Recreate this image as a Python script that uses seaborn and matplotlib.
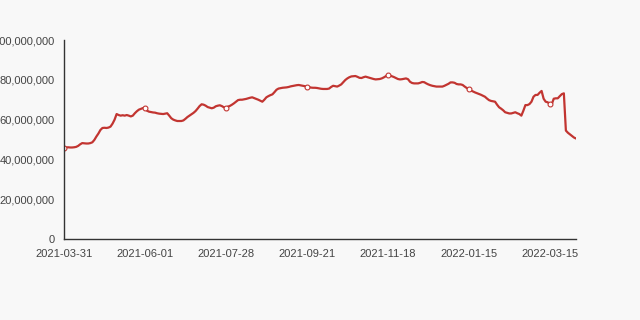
import matplotlib
matplotlib.use("Agg")
import matplotlib.pyplot as plt
import matplotlib.ticker as mticker
import seaborn as sns
import pandas as pd

# values in millions
values_m = [
    45.7, 46.0, 46.1, 46.0, 46.0, 46.1, 46.3, 46.8, 47.6, 48.2,
    48.1, 48.0, 48.0, 48.2, 48.6, 49.8, 51.5, 53.0, 54.8, 55.8,
    55.9, 55.8, 56.0, 56.5, 58.0, 60.0, 62.8, 62.3, 62.0, 62.2,
    62.0, 62.3, 62.0, 61.6, 62.0, 63.2, 64.2, 65.0, 65.4, 65.8,
    66.0, 64.5, 64.0, 63.8, 63.6, 63.5, 63.2, 63.0, 62.9, 62.8,
    63.0, 63.2, 62.0, 60.7, 60.0, 59.6, 59.3, 59.3, 59.3, 59.6,
    60.4, 61.3, 62.0, 62.7, 63.4, 64.3, 65.5, 66.8, 67.7, 67.5,
    67.0, 66.3, 66.0, 65.7, 66.0, 66.7, 67.0, 67.2, 66.8, 66.2,
    66.0, 66.5, 66.9, 67.5, 68.2, 69.0, 69.8, 70.0, 70.0, 70.2,
    70.4, 70.7, 71.0, 71.2, 70.8, 70.4, 70.0, 69.5, 69.0, 70.0,
    71.2, 71.8, 72.3, 72.7, 73.8, 75.0, 75.6, 75.8, 76.0, 76.1,
    76.2, 76.4, 76.7, 76.9, 77.1, 77.3, 77.4, 77.2, 77.0, 76.8,
    76.5, 76.3, 76.1, 76.0, 76.0, 75.9, 75.7, 75.5, 75.4, 75.4,
    75.4, 75.6, 76.4, 77.0, 76.8, 76.6, 77.1, 77.7, 78.8, 79.9,
    80.7, 81.3, 81.7, 81.8, 81.9, 81.5, 81.0, 80.9, 81.3, 81.6,
    81.3, 81.0, 80.7, 80.4, 80.2, 80.3, 80.4, 80.7, 81.2, 81.8,
    82.4, 82.1, 81.8, 81.4, 80.9, 80.4, 80.2, 80.3, 80.5, 80.7,
    80.3, 79.0, 78.4, 78.2, 78.2, 78.2, 78.5, 78.9, 78.8, 78.2,
    77.7, 77.3, 77.0, 76.8, 76.6, 76.6, 76.6, 76.6, 77.0, 77.5,
    78.0, 78.7, 78.7, 78.5, 77.9, 77.7, 77.7, 77.4, 76.6, 75.9,
    75.2, 74.6, 74.2, 73.7, 73.3, 72.9, 72.5, 72.0, 71.5, 70.6,
    69.8, 69.4, 69.2, 69.0, 67.5, 66.2, 65.5, 64.7, 63.7, 63.4,
    63.1, 63.1, 63.4, 63.7, 63.2, 62.8, 62.0, 64.5, 67.3, 67.3,
    67.8, 69.0, 71.5, 72.4, 72.4, 73.5, 74.4, 70.5, 69.0, 68.7,
    68.0, 67.7, 70.5, 70.7, 70.7, 71.8, 72.8, 73.2, 54.5, 53.4,
    52.6, 51.8, 51.0, 50.5,
]
tick_labels = ["2021-03-31", "2021-06-01", "2021-07-28", "2021-09-21",
               "2021-11-18", "2022-01-15", "2022-03-15"]
label_step = 40

values = [v * 1_000_000 for v in values_m]
df = pd.DataFrame({"idx": list(range(len(values))), "value": values})

sns.set_style("white")
plt.rcParams["font.family"] = ["Liberation Sans", "DejaVu Sans"]

bg = "#f8f8f8"
fig = plt.figure(figsize=(6.4, 3.2), dpi=100, facecolor=bg)
ax = fig.add_axes([0.1, 0.253, 0.8, 0.622])
ax.set_facecolor(bg)

sns.lineplot(data=df, x="idx", y="value", ax=ax, color="#c23531", linewidth=1.6,
             marker="o", markevery=label_step, markersize=3.5,
             markerfacecolor="white", markeredgecolor="#c23531", markeredgewidth=0.8)

ax.set_xlim(0, len(values) - 1)
ax.set_ylim(0, 100_000_000)
ax.yaxis.set_major_locator(mticker.MultipleLocator(20_000_000))
ax.yaxis.set_major_formatter(mticker.FuncFormatter(lambda v, p: f"{int(v):,}"))
ax.set_xticks([i * label_step for i in range(len(tick_labels))])
ax.set_xticklabels(tick_labels)

for s in ["top", "right"]:
    ax.spines[s].set_visible(False)
for s in ["left", "bottom"]:
    ax.spines[s].set_color("#333333")
    ax.spines[s].set_linewidth(1.0)
ax.tick_params(axis="both", which="both", length=5, width=1, color="#333333",
               labelcolor="#444444", labelsize=8, direction="out", pad=2)
ax.set_xlabel("")
ax.set_ylabel("")
ax.grid(False)

fig.savefig("out.png", dpi=100, facecolor=bg)
